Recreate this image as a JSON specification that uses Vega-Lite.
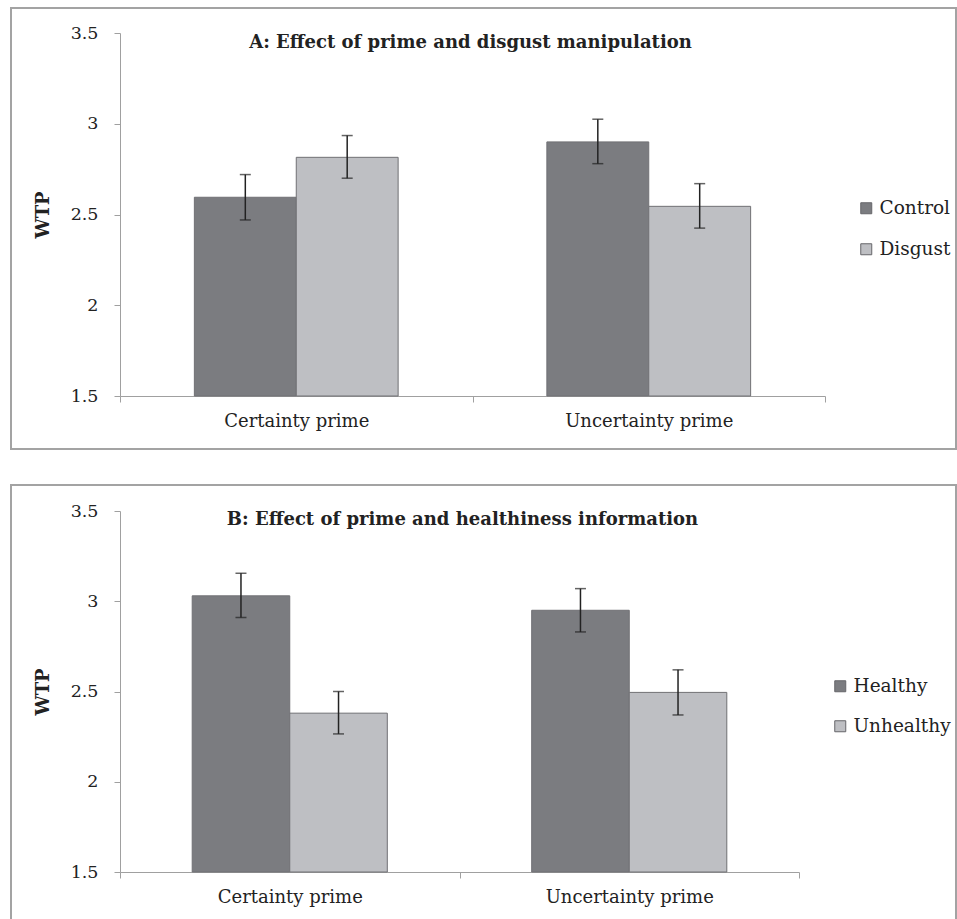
{
  "$schema": "https://vega.github.io/schema/vega-lite/v6.json",
  "padding": {"left": 10, "top": 7, "right": 1, "bottom": 1},
  "background": "white",
  "spacing": 34,
  "datasets": {
    "A": [
      {"prime": "Certainty prime", "group": "Control", "wtp": 2.595, "lo": 2.47, "hi": 2.72},
      {"prime": "Certainty prime", "group": "Disgust", "wtp": 2.815, "lo": 2.70, "hi": 2.935},
      {"prime": "Uncertainty prime", "group": "Control", "wtp": 2.90, "lo": 2.78, "hi": 3.025},
      {"prime": "Uncertainty prime", "group": "Disgust", "wtp": 2.545, "lo": 2.425, "hi": 2.67}
    ],
    "B": [
      {"prime": "Certainty prime", "group": "Healthy", "wtp": 3.03, "lo": 2.91, "hi": 3.155},
      {"prime": "Certainty prime", "group": "Unhealthy", "wtp": 2.38, "lo": 2.265, "hi": 2.50},
      {"prime": "Uncertainty prime", "group": "Healthy", "wtp": 2.95, "lo": 2.83, "hi": 3.07},
      {"prime": "Uncertainty prime", "group": "Unhealthy", "wtp": 2.495, "lo": 2.37, "hi": 2.62}
    ]
  },
  "config": {
    "font": "DejaVu Serif",
    "view": {"stroke": "#a3a3a3", "strokeWidth": 2},
    "axis": {
      "domainColor": "#a0a0a0",
      "tickColor": "#a0a0a0",
      "labelColor": "#222222",
      "titleColor": "#222222",
      "labelFont": "DejaVu Serif",
      "titleFont": "DejaVu Serif",
      "grid": false
    },
    "legend": {"labelFont": "DejaVu Serif", "labelColor": "#222222"}
  },
  "resolve": {
    "scale": {"color": "independent", "x": "independent", "y": "independent", "xOffset": "independent"},
    "legend": {"color": "independent"}
  },
  "vconcat": [
    {
      "width": 945,
      "height": 441,
      "title": {"text": "A: Effect of prime and disgust manipulation", "fontSize": 18, "fontWeight": "bold", "font": "DejaVu Serif", "color": "#222222", "anchor": "middle", "frame": "group", "dx": -13, "offset": -44},
      "data": {"name": "A"},
      "encoding": {
        "x": {"field": "prime", "type": "nominal",
          "scale": {"range": [109, 814], "paddingInner": 0, "paddingOuter": 0},
          "axis": {"title": null, "offset": -53, "tickBand": "extent", "tickSize": 6, "labelFontSize": 18, "labelPadding": 10, "labelAngle": 0}},
        "xOffset": {"field": "group", "type": "nominal", "scale": {"paddingInner": 0, "paddingOuter": 0.73}}
      },
      "layer": [
        {
          "mark": {"type": "bar", "stroke": "#707074", "strokeWidth": 1},
          "encoding": {
            "y": {"field": "wtp", "type": "quantitative",
              "scale": {"domain": [1.5, 3.5], "range": [388, 25], "zero": false, "nice": false},
              "axis": {"title": "WTP", "values": [1.5, 2, 2.5, 3, 3.5], "format": "~g", "offset": -109, "tickSize": 6, "labelPadding": 16, "labelFontSize": 17.5, "titleFontSize": 18, "titleFontWeight": "bold", "titlePadding": 18}},
            "y2": {"datum": 1.5},
            "color": {"field": "group", "type": "nominal",
              "scale": {"domain": ["Control", "Disgust"], "range": ["#7b7c80", "#bebfc3"]},
              "legend": {"title": null, "orient": "none", "legendX": 846, "legendY": 191, "symbolType": "square", "symbolSize": 121, "symbolStrokeColor": "#66666a", "symbolStrokeWidth": 1, "labelFontSize": 18.5, "rowPadding": 22, "labelOffset": 4}}
          }
        },
        {
          "mark": {"type": "rule", "color": "#222222", "strokeWidth": 1.5},
          "encoding": {"y": {"field": "lo", "type": "quantitative"}, "y2": {"field": "hi"}}
        },
        {
          "mark": {"type": "tick", "color": "#222222", "thickness": 1.5, "size": 11, "orient": "horizontal"},
          "encoding": {"y": {"field": "lo", "type": "quantitative"}}
        },
        {
          "mark": {"type": "tick", "color": "#222222", "thickness": 1.5, "size": 11, "orient": "horizontal"},
          "encoding": {"y": {"field": "hi", "type": "quantitative"}}
        }
      ]
    },
    {
      "width": 945,
      "height": 436,
      "title": {"text": "B: Effect of prime and healthiness information", "fontSize": 18, "fontWeight": "bold", "font": "DejaVu Serif", "color": "#222222", "anchor": "middle", "frame": "group", "dx": -21, "offset": -44},
      "data": {"name": "B"},
      "encoding": {
        "x": {"field": "prime", "type": "nominal",
          "scale": {"range": [109, 788], "paddingInner": 0, "paddingOuter": 0},
          "axis": {"title": null, "offset": -49, "tickBand": "extent", "tickSize": 6, "labelFontSize": 18, "labelPadding": 10, "labelAngle": 0}},
        "xOffset": {"field": "group", "type": "nominal", "scale": {"paddingInner": 0, "paddingOuter": 0.74}}
      },
      "layer": [
        {
          "mark": {"type": "bar", "stroke": "#707074", "strokeWidth": 1},
          "encoding": {
            "y": {"field": "wtp", "type": "quantitative",
              "scale": {"domain": [1.5, 3.5], "range": [387, 26], "zero": false, "nice": false},
              "axis": {"title": "WTP", "values": [1.5, 2, 2.5, 3, 3.5], "format": "~g", "offset": -109, "tickSize": 6, "labelPadding": 16, "labelFontSize": 17.5, "titleFontSize": 18, "titleFontWeight": "bold", "titlePadding": 18}},
            "y2": {"datum": 1.5},
            "color": {"field": "group", "type": "nominal",
              "scale": {"domain": ["Healthy", "Unhealthy"], "range": ["#7b7c80", "#bebfc3"]},
              "legend": {"title": null, "orient": "none", "legendX": 820, "legendY": 192, "symbolType": "square", "symbolSize": 121, "symbolStrokeColor": "#66666a", "symbolStrokeWidth": 1, "labelFontSize": 18.5, "rowPadding": 21, "labelOffset": 4}}
          }
        },
        {
          "mark": {"type": "rule", "color": "#222222", "strokeWidth": 1.5},
          "encoding": {"y": {"field": "lo", "type": "quantitative"}, "y2": {"field": "hi"}}
        },
        {
          "mark": {"type": "tick", "color": "#222222", "thickness": 1.5, "size": 11, "orient": "horizontal"},
          "encoding": {"y": {"field": "lo", "type": "quantitative"}}
        },
        {
          "mark": {"type": "tick", "color": "#222222", "thickness": 1.5, "size": 11, "orient": "horizontal"},
          "encoding": {"y": {"field": "hi", "type": "quantitative"}}
        }
      ]
    }
  ]
}
